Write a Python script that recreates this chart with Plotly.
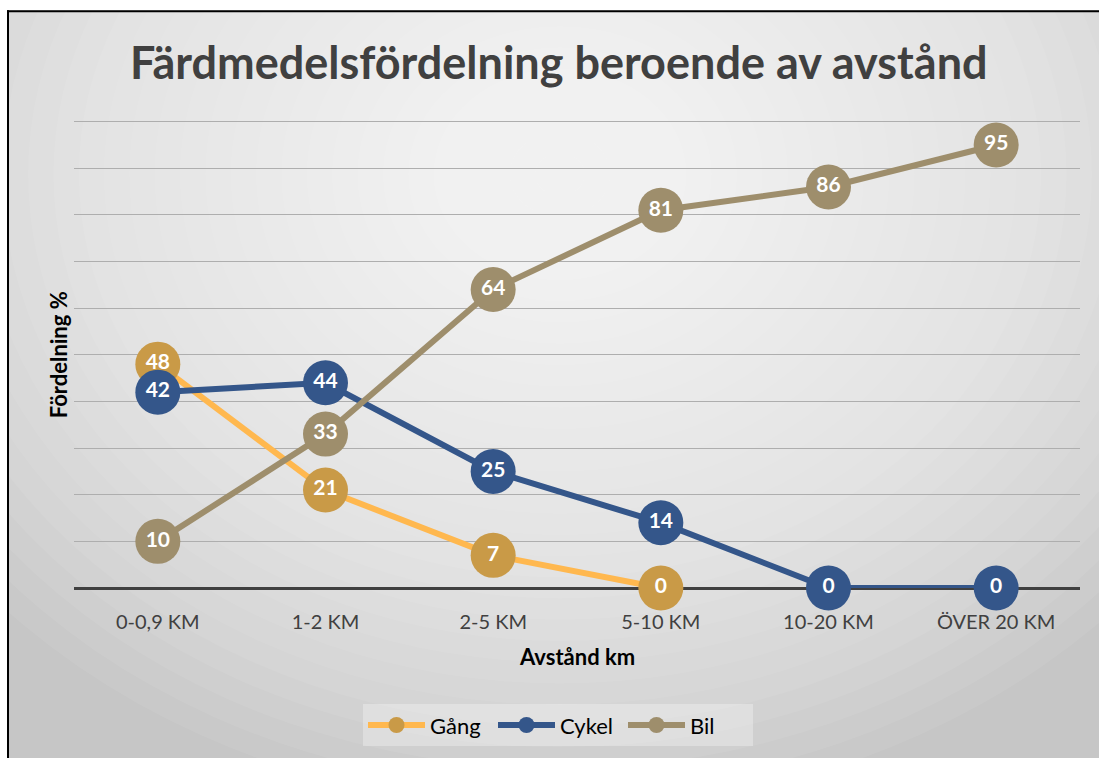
import plotly.graph_objects as go

categories = ["0-0,9 KM", "1-2 KM", "2-5 KM", "5-10 KM", "10-20 KM", "ÖVER 20 KM"]
gang_x = ["0-0,9 KM", "1-2 KM", "2-5 KM", "5-10 KM"]
gang_v = [48, 21, 7, 0]
cykel = [42, 44, 25, 14, 0, 0]
bil = [10, 33, 64, 81, 86, 95]

W, H = 1099, 758
L, R, T, B = 74, 1080, 117.3, 591

def px(xs):
    return (xs - L) / (R - L)

def py(ys):
    return (B - ys) / (B - T)

FONT = "Lato"
fig = go.Figure()

series = [
    ("Gång", gang_x, gang_v, "#FFB84F", "#C99A47"),
    ("Cykel", categories, cykel, "#34568A", "#34568A"),
    ("Bil", categories, bil, "#9E8E6C", "#9E8E6C"),
]
for name, xs, ys, lc, mc in series:
    fig.add_trace(go.Scatter(
        x=xs, y=ys, name=name, mode="lines+markers",
        line=dict(color=lc, width=6),
        marker=dict(color=mc, size=45, line=dict(width=0)),
        cliponaxis=False,
    ))
    fig.add_trace(go.Scatter(
        x=xs, y=ys, mode="text", text=[str(v) for v in ys],
        textposition="middle center", showlegend=False, hoverinfo="skip",
        textfont=dict(family=FONT, size=21, color="white", weight="bold"),
        cliponaxis=False,
    ))

# radial gradient background
shapes = []
N = 30
cx, cy = 560, 175
RX, RY = 760, 640
for k in range(N):
    f = 1 - k / N
    rx, ry = RX * f, RY * f
    shapes.append(dict(
        type="circle", xref="paper", yref="paper",
        x0=px(cx - rx), x1=px(cx + rx), y0=py(cy + ry), y1=py(cy - ry),
        fillcolor="white", opacity=0.068, line=dict(width=0), layer="below",
    ))
# white outer margin (left, top) and border lines
shapes.append(dict(type="rect", xref="paper", yref="paper",
                   x0=px(-5), x1=px(7), y0=py(-5), y1=py(770),
                   fillcolor="white", line=dict(width=0), layer="above"))
shapes.append(dict(type="rect", xref="paper", yref="paper",
                   x0=px(-5), x1=px(1110), y0=py(-5), y1=py(10),
                   fillcolor="white", line=dict(width=0), layer="above"))
shapes.append(dict(type="line", xref="paper", yref="paper",
                   x0=px(8), x1=px(8), y0=py(10), y1=py(770),
                   line=dict(color="black", width=2), layer="above"))
shapes.append(dict(type="line", xref="paper", yref="paper",
                   x0=px(7), x1=px(1110), y0=py(11), y1=py(11),
                   line=dict(color="black", width=2), layer="above"))

annotations = [
    dict(text="<b>Färdmedelsfördelning beroende av avstånd</b>", xref="paper", yref="paper",
         x=px(559), y=py(62), showarrow=False, xanchor="center", yanchor="middle",
         font=dict(family=FONT, size=45, color="#404040")),
    dict(text="<b>Avstånd km</b>", xref="paper", yref="paper",
         x=px(577), y=py(660), showarrow=False, xanchor="center", yanchor="middle",
         font=dict(family=FONT, size=22, color="#000000")),
    dict(text="<b>Fördelning %</b>", xref="paper", yref="paper",
         x=px(58), y=py(357), showarrow=False, xanchor="center", yanchor="middle",
         textangle=-90, font=dict(family=FONT, size=22, color="#000000")),
]

fig.update_layout(
    width=W, height=H,
    margin=dict(l=L, r=W - R, t=T, b=H - B),
    paper_bgcolor="#C6C6C6",
    plot_bgcolor="rgba(0,0,0,0)",
    shapes=shapes,
    annotations=annotations,
    showlegend=True,
    legend=dict(
        orientation="h", x=px(558), y=py(729), xanchor="center", yanchor="middle",
        bgcolor="rgba(255,255,255,0.3)", font=dict(family=FONT, size=22, color="#000000"),
        traceorder="normal", itemwidth=57, entrywidth=58,
    ),
    xaxis=dict(
        categoryorder="array", categoryarray=categories, range=[-0.5, 5.5],
        showgrid=False, showline=False, zeroline=False, ticks="",
        tickfont=dict(family=FONT, size=20, color="#404040"),
        ticklabelstandoff=20,
    ),
    yaxis=dict(
        range=[0, 101], tickvals=[10, 20, 30, 40, 50, 60, 70, 80, 90, 100],
        showticklabels=False, showgrid=True,
        gridcolor="#AEAEAE", gridwidth=1.3, zeroline=True, zerolinecolor="#404040",
        zerolinewidth=3, showline=False, ticks="",
    ),
)

fig.write_html("out.html", config={"displayModeBar": False},
               post_script="document.body.style.margin='0px';document.body.style.overflow='hidden';")
